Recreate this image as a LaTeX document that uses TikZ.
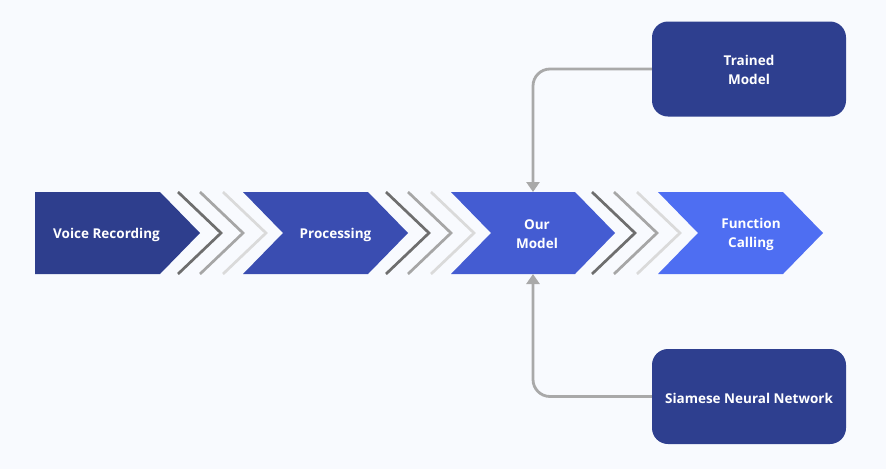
\documentclass[tikz,border=0pt]{standalone}
\usepackage{fontspec}
\setmainfont{Open Sans}
\usetikzlibrary{arrows.meta}
\definecolor{bgc}{HTML}{F8FAFE}
\definecolor{navy}{HTML}{2E3F8F}
\definecolor{sA}{HTML}{2E3E8D}
\definecolor{sB}{HTML}{3A4DB1}
\definecolor{sC}{HTML}{445CD2}
\definecolor{sD}{HTML}{4E6EF2}
\definecolor{chA}{HTML}{6E6E6E}
\definecolor{chB}{HTML}{A6A6A6}
\definecolor{chC}{HTML}{DADADA}
\definecolor{conn}{HTML}{A9A9A9}
\tikzset{
  lbl/.style={text=white, font=\fontsize{13.5}{19}\selectfont\bfseries, align=center, inner sep=0pt},
  boxnode/.style={fill=navy, rounded corners=16pt, minimum width=194pt, minimum height=95pt, inner sep=0pt},
  chev/.style={line width=2.7pt},
  connline/.style={draw=conn, line width=2.8pt, rounded corners=17pt, -{Triangle[length=10pt,width=13pt]}},
}
\begin{document}
\begin{tikzpicture}[x=1pt,y=-1pt]
\useasboundingbox (0,0) rectangle (886,469);
\fill[bgc] (0,0) rectangle (886,469);
% process shapes
\fill[sA] (35,192) -- (160,192) -- (200,233) -- (160,274) -- (35,274) -- cycle;
\fill[sB] (243,192) -- (368,192) -- (408,233) -- (368,274) -- (243,274) -- (283,233) -- cycle;
\fill[sC] (451,192) -- (575,192) -- (615,233) -- (575,274) -- (451,274) -- (491,233) -- cycle;
\fill[sD] (658,192) -- (783,192) -- (823,233) -- (783,274) -- (658,274) -- (698,233) -- cycle;
% chevrons
\foreach \x in {178,386,592}{
  \draw[chev,chA] (\x,192) -- (\x+43,233) -- (\x,274);
  \draw[chev,chB] (\x+22,192) -- (\x+65,233) -- (\x+22,274);
  \draw[chev,chC] (\x+45,192) -- (\x+88,233) -- (\x+45,274);
}
% labels
\node[lbl] (voice) at (106.5,234.5) {Voice Recording};
\node[lbl] (proc) at (335.5,234.5) {Processing};
\node[lbl] (our) at (537,234) {Our\\Model};
\node[lbl] (func) at (751,234) {Function\\Calling};
\coordinate (ourtop) at (533,192);
\coordinate (ourbot) at (533,274);
% boxes
\node[boxnode] (tm) at (749,69) {};
\node[lbl] at ([yshift=-1pt]tm.center) {Trained\\Model};
\node[boxnode] (snn) at (749,396.5) {};
\node[lbl] at ([yshift=-1.5pt]snn.center) {Siamese Neural Network};
% connectors
\draw[connline] (tm.west) -| (ourtop);
\draw[connline] (snn.west) -| (ourbot);
\end{tikzpicture}
\end{document}
